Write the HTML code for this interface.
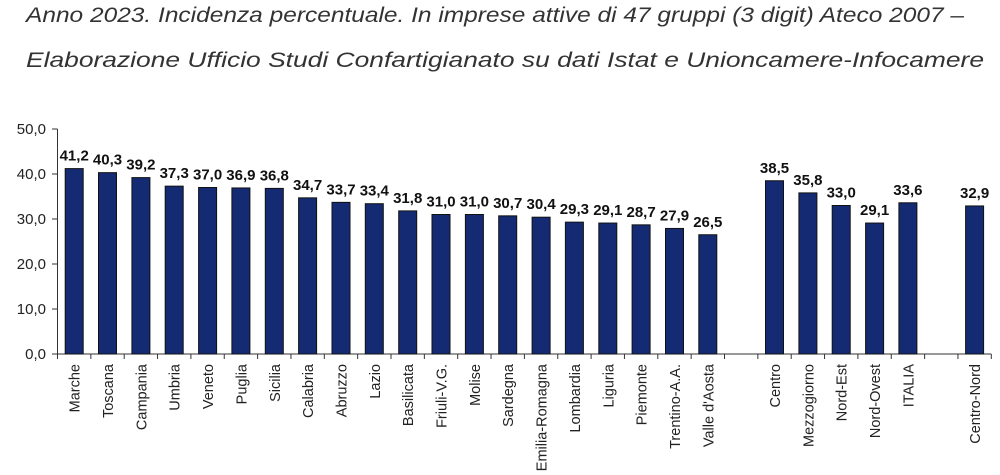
<!DOCTYPE html>
<html><head><meta charset="utf-8"><style>
html,body{margin:0;padding:0;background:#fff;}
svg{display:block;}
</style></head><body>
<svg width="1000" height="475" viewBox="0 0 1000 475" xmlns="http://www.w3.org/2000/svg" font-family="Liberation Sans, Arial, sans-serif">
<text x="26" y="22" font-size="21" font-style="italic" fill="#333" textLength="938" lengthAdjust="spacingAndGlyphs">Anno 2023. Incidenza percentuale. In imprese attive di 47 gruppi (3 digit) Ateco 2007 –</text>
<text x="26" y="67" font-size="21" font-style="italic" fill="#333" textLength="958" lengthAdjust="spacingAndGlyphs">Elaborazione Ufficio Studi Confartigianato su dati Istat e Unioncamere-Infocamere</text>

<g fill="#222" font-size="15" text-anchor="end">
<text x="46" y="359">0,0</text>
<text x="46" y="314">10,0</text>
<text x="46" y="269">20,0</text>
<text x="46" y="224">30,0</text>
<text x="46" y="179">40,0</text>
<text x="46" y="134">50,0</text>
</g>
<path d="M52 354H57.5M52 309H57.5M52 264H57.5M52 219H57.5M52 174H57.5M52 129H57.5M57.5 129V354H991.3" stroke="#333" fill="none"/>
<path d="M57.5 354v5M90.85 354v5M124.2 354v5M157.55 354v5M190.9 354v5M224.25 354v5M257.6 354v5M290.95 354v5M324.3 354v5M357.65 354v5M391 354v5M424.35 354v5M457.7 354v5M491.05 354v5M524.4 354v5M557.75 354v5M591.1 354v5M624.45 354v5M657.8 354v5M691.15 354v5M724.5 354v5M757.85 354v5M791.2 354v5M824.55 354v5M857.9 354v5M891.25 354v5M924.6 354v5M957.95 354v5M991.3 354v5" stroke="#333"/>

<g fill="#142a73" stroke="#111" stroke-width="1">
<rect x="65.2" y="168.6" width="18" height="185.4"/>
<rect x="98.5" y="172.65" width="18" height="181.35"/>
<rect x="131.9" y="177.6" width="18" height="176.4"/>
<rect x="165.2" y="186.15" width="18" height="167.85"/>
<rect x="198.6" y="187.5" width="18" height="166.5"/>
<rect x="231.9" y="187.95" width="18" height="166.05"/>
<rect x="265.3" y="188.4" width="18" height="165.6"/>
<rect x="298.6" y="197.85" width="18" height="156.15"/>
<rect x="332" y="202.35" width="18" height="151.65"/>
<rect x="365.3" y="203.7" width="18" height="150.3"/>
<rect x="398.7" y="210.9" width="18" height="143.1"/>
<rect x="432" y="214.5" width="18" height="139.5"/>
<rect x="465.4" y="214.5" width="18" height="139.5"/>
<rect x="498.7" y="215.85" width="18" height="138.15"/>
<rect x="532.1" y="217.2" width="18" height="136.8"/>
<rect x="565.4" y="222.15" width="18" height="131.85"/>
<rect x="598.8" y="223.05" width="18" height="130.95"/>
<rect x="632.1" y="224.85" width="18" height="129.15"/>
<rect x="665.5" y="228.45" width="18" height="125.55"/>
<rect x="698.8" y="234.75" width="18" height="119.25"/>
<rect x="765.5" y="180.75" width="18" height="173.25"/>
<rect x="798.9" y="192.9" width="18" height="161.1"/>
<rect x="832.2" y="205.5" width="18" height="148.5"/>
<rect x="865.6" y="223.05" width="18" height="130.95"/>
<rect x="898.9" y="202.8" width="18" height="151.2"/>
<rect x="965.6" y="205.95" width="18" height="148.05"/>
</g>

<g fill="#111" font-size="15" font-weight="bold" text-anchor="middle">
<text x="74.2" y="160.6">41,2</text>
<text x="107.5" y="164.65">40,3</text>
<text x="140.9" y="169.6">39,2</text>
<text x="174.2" y="178.15">37,3</text>
<text x="207.6" y="179.5">37,0</text>
<text x="240.9" y="179.95">36,9</text>
<text x="274.3" y="180.4">36,8</text>
<text x="307.6" y="189.85">34,7</text>
<text x="341" y="194.35">33,7</text>
<text x="374.3" y="195.7">33,4</text>
<text x="407.7" y="202.9">31,8</text>
<text x="441" y="206.5">31,0</text>
<text x="474.4" y="206.5">31,0</text>
<text x="507.7" y="207.85">30,7</text>
<text x="541.1" y="209.2">30,4</text>
<text x="574.4" y="214.15">29,3</text>
<text x="607.8" y="215.05">29,1</text>
<text x="641.1" y="216.85">28,7</text>
<text x="674.5" y="220.45">27,9</text>
<text x="707.8" y="226.75">26,5</text>
<text x="774.5" y="172.75">38,5</text>
<text x="807.9" y="184.9">35,8</text>
<text x="841.2" y="197.5">33,0</text>
<text x="874.6" y="215.05">29,1</text>
<text x="907.9" y="194.8">33,6</text>
<text x="974.6" y="197.95">32,9</text>
</g>

<g fill="#222" font-size="14.5" text-anchor="end">
<text transform="translate(79.7 364) rotate(-90)">Marche</text>
<text transform="translate(113 364) rotate(-90)">Toscana</text>
<text transform="translate(146.4 364) rotate(-90)">Campania</text>
<text transform="translate(179.7 364) rotate(-90)">Umbria</text>
<text transform="translate(213.1 364) rotate(-90)">Veneto</text>
<text transform="translate(246.4 364) rotate(-90)">Puglia</text>
<text transform="translate(279.8 364) rotate(-90)">Sicilia</text>
<text transform="translate(313.1 364) rotate(-90)">Calabria</text>
<text transform="translate(346.5 364) rotate(-90)">Abruzzo</text>
<text transform="translate(379.8 364) rotate(-90)">Lazio</text>
<text transform="translate(413.2 364) rotate(-90)">Basilicata</text>
<text transform="translate(446.5 364) rotate(-90)">Friuli-V.G.</text>
<text transform="translate(479.9 364) rotate(-90)">Molise</text>
<text transform="translate(513.2 364) rotate(-90)">Sardegna</text>
<text transform="translate(546.6 364) rotate(-90)">Emilia-Romagna</text>
<text transform="translate(579.9 364) rotate(-90)">Lombardia</text>
<text transform="translate(613.3 364) rotate(-90)">Liguria</text>
<text transform="translate(646.6 364) rotate(-90)">Piemonte</text>
<text transform="translate(680 364) rotate(-90)">Trentino-A.A.</text>
<text transform="translate(713.3 364) rotate(-90)">Valle d'Aosta</text>
<text transform="translate(780 364) rotate(-90)">Centro</text>
<text transform="translate(813.4 364) rotate(-90)">Mezzogiorno</text>
<text transform="translate(846.7 364) rotate(-90)">Nord-Est</text>
<text transform="translate(880.1 364) rotate(-90)">Nord-Ovest</text>
<text transform="translate(913.4 364) rotate(-90)">ITALIA</text>
<text transform="translate(980.1 364) rotate(-90)">Centro-Nord</text>
</g>
</svg>
</body></html>
